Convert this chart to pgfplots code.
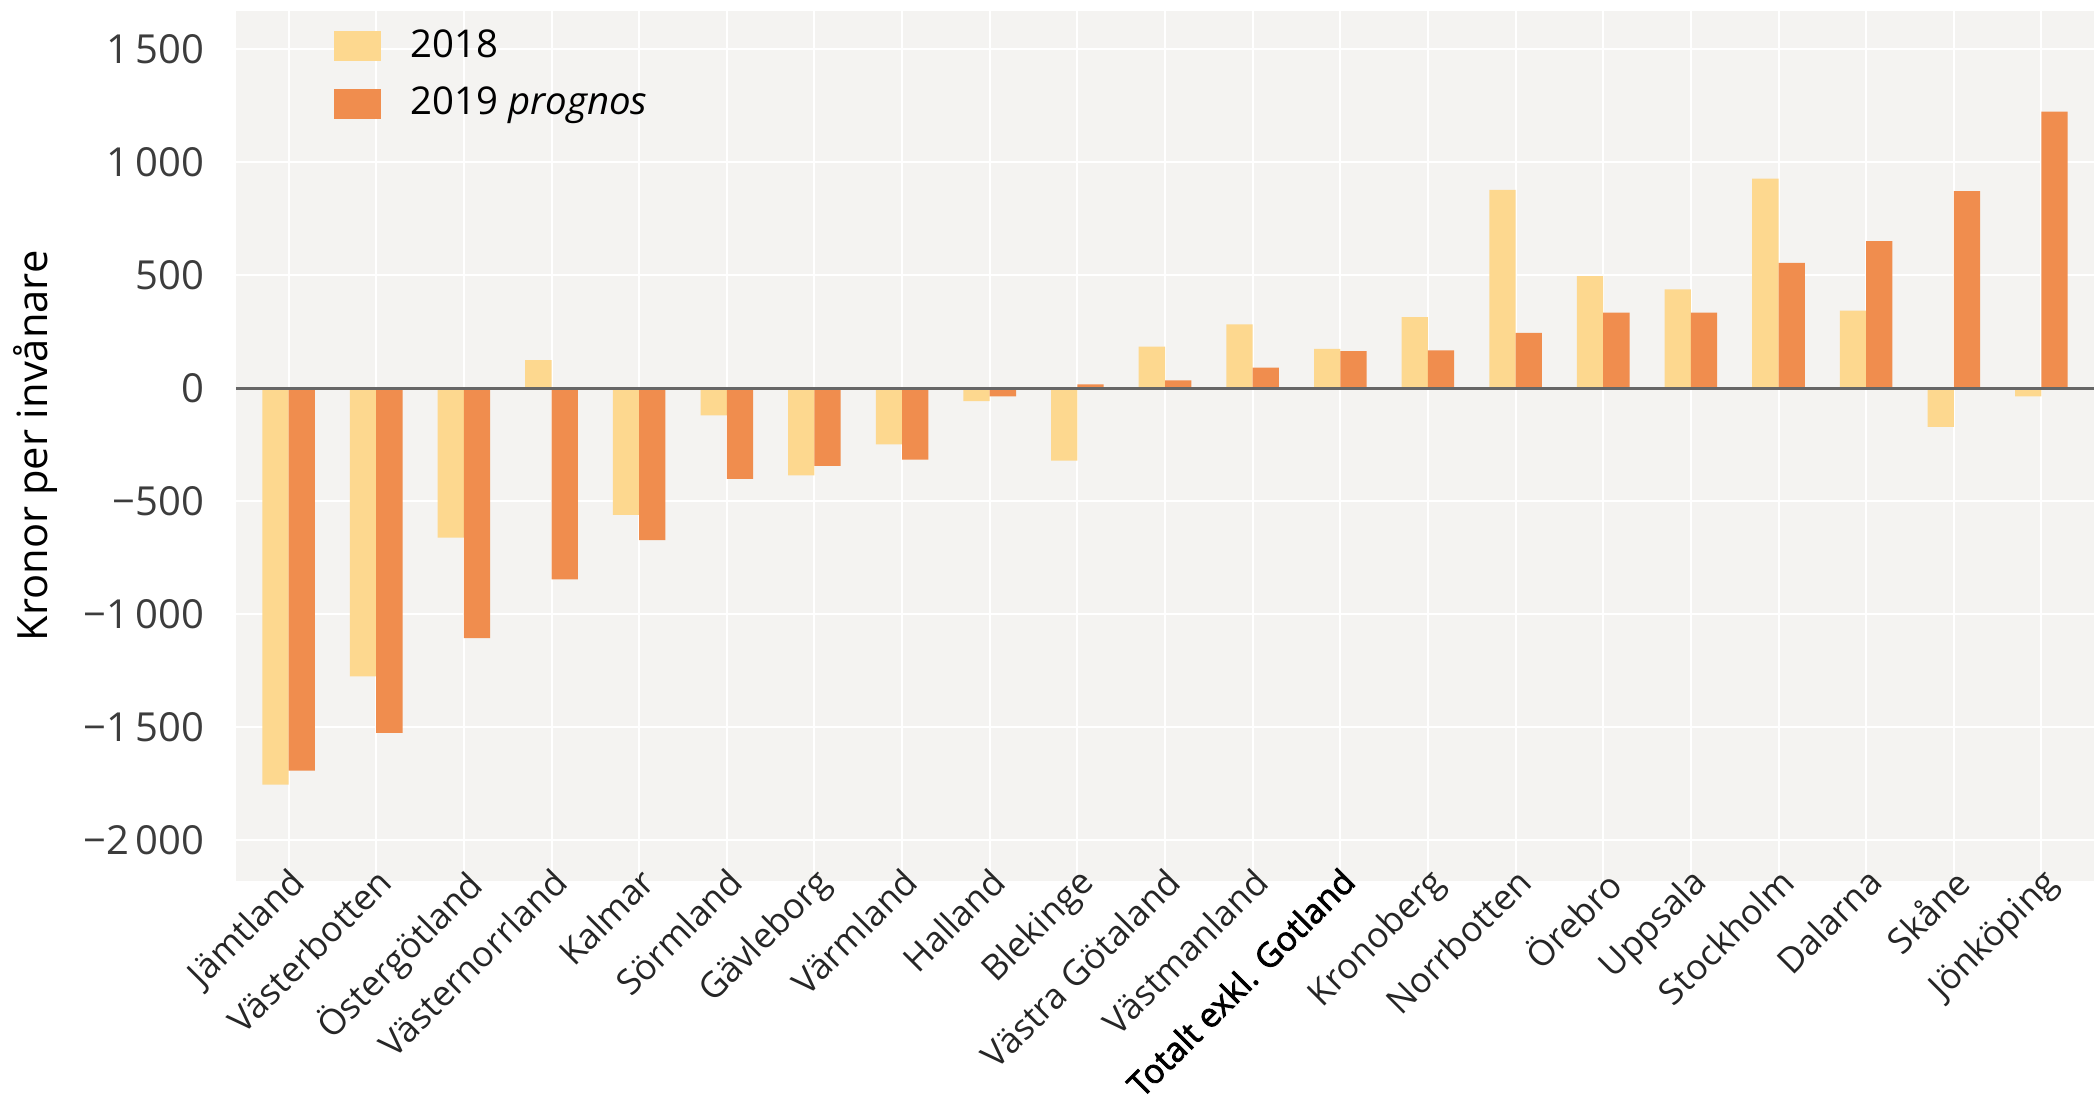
\documentclass[border=0pt]{standalone}
\usepackage{fontspec}
\setmainfont{Open Sans}
\newfontfamily\fbold{Open Sans}[FakeBold=2.2]
\usepackage{pgfplots}
\pgfplotsset{compat=1.18}
\definecolor{c18}{RGB}{253,216,143}
\definecolor{c19}{RGB}{240,141,78}
\definecolor{bg}{RGB}{244,243,241}
\definecolor{tl}{RGB}{60,60,60}
\begin{document}
\begin{tikzpicture}[font=\fontsize{12}{14}\selectfont]
\useasboundingbox (-70.8pt,-69pt) rectangle (557.4pt,264.3pt);
\begin{axis}[
  at={(0,0)}, anchor=south west,
  scale only axis, width=557.4pt, height=261pt,
  xmin=-0.6, xmax=20.6, ymin=-2180, ymax=1670,
  ybar=0pt, bar width=0.3,
  axis background/.style={fill=bg},
  axis line style={draw=none},
  major tick length=0pt,
  grid=major, major grid style={white, line width=0.6pt},
  xtick={0,...,20},
  xticklabels={Jämtland,Västerbotten,Östergötland,Västernorrland,Kalmar,Sörmland,Gävleborg,Värmland,Halland,Blekinge,Västra Götaland,Västmanland,{\fbold\color{black}\fontsize{10.1}{12}\selectfont Totalt exkl. Gotland},Kronoberg,Norrbotten,Örebro,Uppsala,Stockholm,Dalarna,Skåne,Jönköping},
  xticklabel style={rotate=45, anchor=north east, xshift=6.5pt, yshift=7pt, text=black!85, font=\fontsize{10.6}{13}\selectfont},
  ytick={-2000,-1500,-1000,-500,0,500,1000,1500},
  yticklabels={−2\,000,−1\,500,−1\,000,−500,0,500,1\,000,1\,500},
  yticklabel style={text=tl, xshift=-6pt},
  ylabel={Kronor per invånare},
  ylabel style={at={(axis description cs:-0.108,0.5)}, anchor=center, text=black, font=\fontsize{12.5}{14}\selectfont},
  legend style={at={(axis description cs:0.047,0.995)}, anchor=north west, draw=none, fill=none, row sep=3.5pt, font=\fontsize{11.5}{14}\selectfont},
  legend cell align=left,
  legend image code/.code={\fill[#1] (0pt,-4.5pt) rectangle (14pt,4.5pt); \path (21pt,0pt);},
]
\addplot[fill=c18, draw=none] coordinates {
(0,-1754) (1,-1275) (2,-660) (3,125) (4,-560) (5,-120) (6,-385) (7,-248) (8,-56) (9,-320)
(10,185) (11,283) (12,175) (13,315) (14,878) (15,497) (16,438) (17,928) (18,344) (19,-170) (20,-35)};
\addplot[fill=c19, draw=none] coordinates {
(0,-1692) (1,-1525) (2,-1105) (3,-845) (4,-672) (5,-400) (6,-343) (7,-315) (8,-35) (9,18)
(10,35) (11,92) (12,165) (13,168) (14,245) (15,335) (16,335) (17,555) (18,652) (19,873) (20,1225)};
\legend{2018, 2019 \textit{prognos}}
\draw[black!60, line width=0.7pt] (axis cs:-0.6,0) -- (axis cs:20.6,0);
\end{axis}
\end{tikzpicture}
\end{document}
